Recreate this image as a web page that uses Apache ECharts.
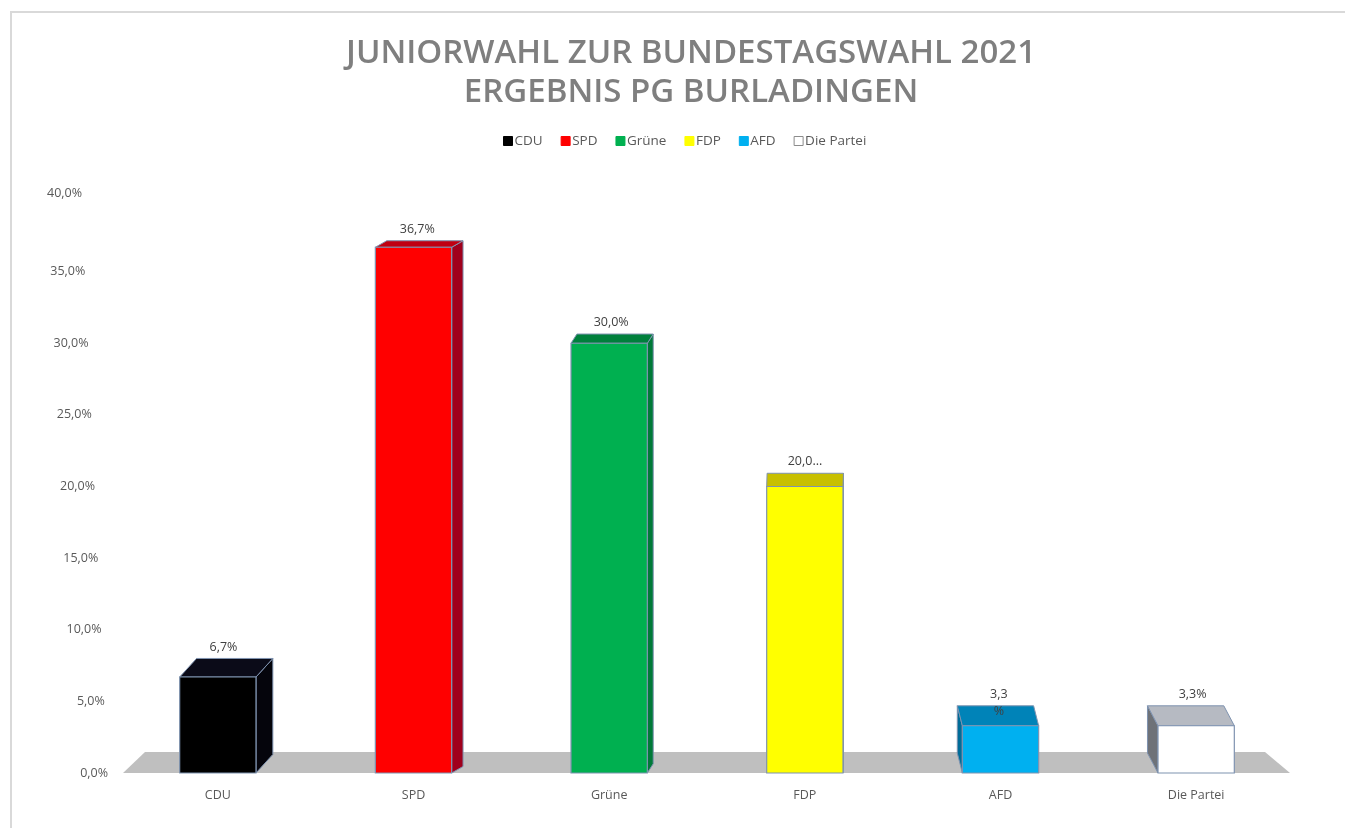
<!DOCTYPE html>
<html>
<head>
<meta charset="utf-8">
<script src="https://cdn.jsdelivr.net/npm/echarts@6/dist/echarts.min.js"></script>
<style>
html,body{margin:0;padding:0;background:#fff;}
#chart{width:1345px;height:828px;}
</style>
</head>
<body>
<div id="chart"></div>
<script>
// ---- data ----
const categories = ['CDU', 'SPD', 'Grüne', 'FDP', 'AFD', 'Die Partei'];
const values = [6.7, 36.7, 30.0, 20.0, 3.3, 3.3];
const valueLabels = ['6,7%', '36,7%', '30,0%', '20,0...', '3,3\n%', '3,3%'];
const yTicks = [0, 5, 10, 15, 20, 25, 30, 35, 40];
const titleLines = ['JUNIORWAHL ZUR BUNDESTAGSWAHL 2021', 'ERGEBNIS PG BURLADINGEN'];

// ---- styles ----
const frontColors = ['#000000', '#ff0000', '#00b050', '#ffff00', '#00b0f0', '#ffffff'];
const topColors   = ['#0b0b18', '#c00012', '#00803c', '#c8c000', '#0083b8', '#b6bac2'];
const sideColors  = ['#05050c', '#a0001c', '#007a38', '#b0b000', '#006c98', '#6e7278'];
const FONT = '"Open Sans", Lato, sans-serif';
const TEXT = '#595959';

function fmt(v) { return v.toFixed(1).replace('.', ',') + '%'; }

const rich = {};
yTicks.forEach(v => {
  rich['l' + v] = {
    color: TEXT, fontSize: 12.5, fontFamily: FONT,
    padding: [0, v / 40 * 26, v === 40 ? 14 : 0, 0]
  };
});

function renderBar(idx) {
  return function (params, api) {
    const ci = api.value(0), val = api.value(1);
    const top = api.coord([ci, val]);
    const base = api.coord([ci, 0]);
    const w = api.size([1, 0])[0] * 0.39;
    const cx = top[0];
    const xL = cx - w / 2, xR = cx + w / 2;
    const yT = top[1], yB = base[1];
    const dx = (820 - cx) * 0.028;
    const dy = 8 + (yT - 300) * 0.028;
    const stroke = '#7f93b0';
    const children = [];
    let side;
    if (dx >= 0) {
      side = [[xR, yT], [xR + dx, yT - dy], [xR + dx, yB - dy], [xR, yB]];
    } else {
      side = [[xL, yT], [xL + dx, yT - dy], [xL + dx, yB - dy], [xL, yB]];
    }
    children.push({ type: 'polygon', shape: { points: side },
      style: { fill: sideColors[idx], stroke: stroke, lineWidth: 1 } });
    children.push({ type: 'polygon',
      shape: { points: [[xL, yT], [xL + dx, yT - dy], [xR + dx, yT - dy], [xR, yT]] },
      style: { fill: topColors[idx], stroke: stroke, lineWidth: 1 } });
    children.push({ type: 'rect', shape: { x: xL, y: yT, width: w, height: yB - yT },
      style: { fill: frontColors[idx], stroke: stroke, lineWidth: 1.2 } });
    children.push({ type: 'text',
      style: { text: valueLabels[idx], x: cx + dx / 3, y: yT - dy - 20,
        align: 'center', verticalAlign: 'top', lineHeight: 17,
        fill: '#404040', fontSize: 12.5, fontFamily: FONT } });
    return { type: 'group', children: children };
  };
}

const series = [];
series.push({
  type: 'custom', name: '__floor', silent: true, z: 1,
  data: [[0, 0]],
  renderItem: function (params, api) {
    const cs = params.coordSys;
    const yb = cs.y + cs.height;
    const x0 = cs.x, x1 = cs.x + cs.width;
    return { type: 'polygon',
      shape: { points: [[x0 + 3, yb], [x0 + 25, yb - 21], [x1 - 29, yb - 21], [x1 - 4, yb]] },
      style: { fill: '#bfbfbf' } };
  }
});
categories.forEach((c, i) => {
  series.push({
    type: 'custom', name: c, z: 2 + i,
    data: [[i, values[i]]],
    encode: { x: 0, y: 1 },
    itemStyle: { color: frontColors[i], borderColor: i === 5 ? '#7f7f7f' : frontColors[i] },
    renderItem: renderBar(i)
  });
});

const chart = echarts.init(document.getElementById('chart'));
chart.setOption({
  animation: false,
  backgroundColor: '#ffffff',
  title: {
    text: titleLines.join('\n'),
    left: 686, top: 29, textAlign: 'center',
    textStyle: { color: '#7f7f7f', fontSize: 33, fontWeight: 600, fontFamily: FONT, lineHeight: 39 }
  },
  legend: {
    top: 129, left: 498,
    icon: 'rect', itemWidth: 9, itemHeight: 9, itemGap: 18,
    textStyle: { color: TEXT, fontSize: 13.5, fontFamily: FONT, padding: [0, 0, 0, -3] },
    data: categories.map((c, i) => ({
      name: c,
      itemStyle: { color: frontColors[i], borderColor: i === 5 ? '#8c8c8c' : frontColors[i], borderWidth: 1 }
    }))
  },
  grid: { left: 120, right: 51, top: 200, bottom: 55, containLabel: false },
  xAxis: {
    type: 'category', data: categories,
    axisLine: { show: false }, axisTick: { show: false },
    axisLabel: { color: TEXT, fontSize: 12.5, fontFamily: FONT, margin: 16 }
  },
  yAxis: {
    type: 'value', min: 0, max: 40, interval: 5,
    axisLine: { show: false }, axisTick: { show: false }, splitLine: { show: false },
    axisLabel: {
      margin: 12, rich: rich,
      formatter: function (v) { return '{l' + v + '|' + fmt(v) + '}'; }
    }
  },
  graphic: [{
    type: 'polyline', silent: true,
    shape: { points: [[11, 828], [11, 12], [1345, 12]] },
    style: { stroke: '#d9d9d9', lineWidth: 2, fill: null }
  }],
  series: series
});
</script>
</body>
</html>
